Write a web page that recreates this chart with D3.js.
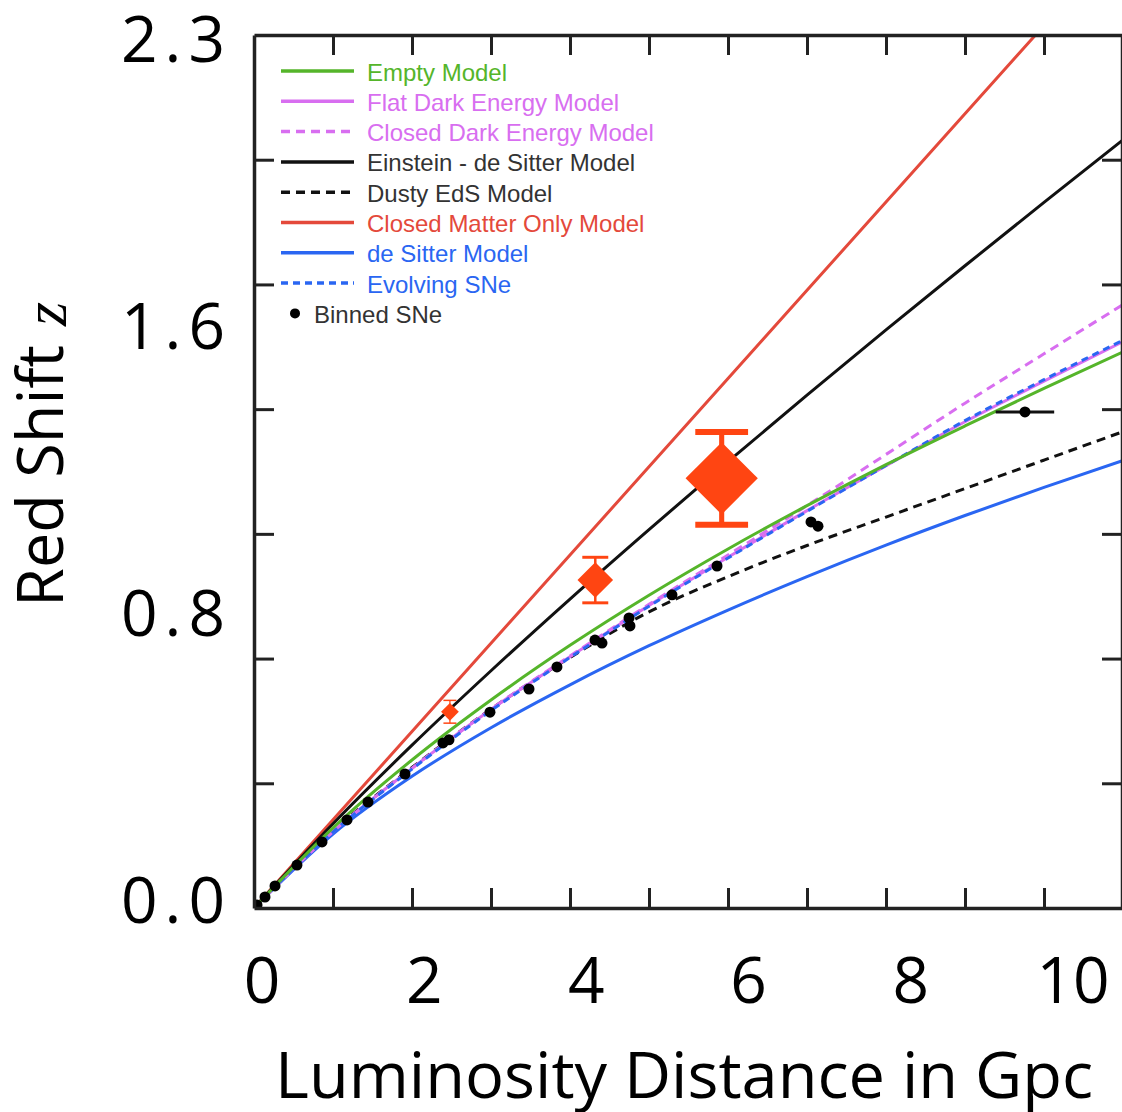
<!DOCTYPE html>
<html>
<head>
<meta charset="utf-8">
<script src="https://cdn.jsdelivr.net/npm/d3@7"></script>
<style>
  body { margin: 0; background: #fff; }
  svg { display: block; }
</style>
</head>
<body>
<svg width="1122" height="1112"></svg>
<script>
// luminosity distance (Gpc) where the model curves were read
const distGpc = [0, 1, 2, 3, 4, 5, 6, 7, 8, 9, 10, 11];

// red shift z of each model at those distances
const zEmpty     = [0, 0.211, 0.390, 0.548, 0.692, 0.824, 0.946, 1.060, 1.168, 1.270, 1.369, 1.465];
const zFlatDE    = [0, 0.201, 0.368, 0.523, 0.662, 0.797, 0.924, 1.047, 1.165, 1.281, 1.388, 1.492];
const zClosedDE  = [0, 0.201, 0.368, 0.524, 0.664, 0.800, 0.930, 1.060, 1.195, 1.330, 1.460, 1.590];
const zEdS       = [0, 0.222, 0.429, 0.625, 0.814, 0.997, 1.176, 1.351, 1.523, 1.692, 1.859, 2.024];
const zDustyEdS  = [0, 0.203, 0.370, 0.524, 0.660, 0.780, 0.873, 0.955, 1.030, 1.105, 1.180, 1.255];
const zDeSitter  = [0, 0.195, 0.347, 0.475, 0.588, 0.691, 0.785, 0.873, 0.956, 1.034, 1.108, 1.179];
const zEvolving  = [0, 0.200, 0.366, 0.520, 0.660, 0.795, 0.922, 1.045, 1.166, 1.284, 1.392, 1.496];

// closed matter only model is a straight line
const distClosedMatter = [0, 2, 4, 6, 8, 10];
const zClosedMatter    = [0, 0.465, 0.930, 1.395, 1.860, 2.325];

// binned supernovae
const snDist = [0.038, 0.139, 0.266, 0.544, 0.861, 1.177, 1.443, 1.911, 2.392, 2.468, 2.987, 3.481,
                3.835, 4.316, 4.405, 4.747, 4.759, 5.291, 5.861, 7.051, 7.139, 9.759];
const snZ    = [0.008, 0.029, 0.058, 0.113, 0.174, 0.232, 0.279, 0.353, 0.435, 0.443, 0.516, 0.577,
                0.635, 0.706, 0.698, 0.764, 0.743, 0.825, 0.901, 1.017, 1.006, 1.307];
const snDistErr = [0, 0, 0, 0, 0, 0, 0, 0, 0, 0, 0, 0, 0, 0, 0, 0, 0, 0, 0, 0, 0, 0.37];

// red diamonds with z error bars
const ptDist = [2.48, 4.32, 5.92];
const ptZ    = [0.517, 0.864, 1.132];
const ptErr  = [0.030, 0.060, 0.122];

// axis tick labels
const xTickLabels = ["0", "2", "4", "6", "8", "10"];
const yTickLabels = ["0.0", "0.8", "1.6", "2.3"];

const legendNames = ["Empty Model", "Flat Dark Energy Model", "Closed Dark Energy Model",
  "Einstein - de Sitter Model", "Dusty EdS Model", "Closed Matter Only Model",
  "de Sitter Model", "Evolving SNe", "Binned SNe"];

////////////////////////////////////////////////////////////////////////////////
const svg = d3.select("svg");
const pLeft = 254, pRight = 1123, pTop = 35, pBottom = 908;

const x = d3.scaleLinear().domain([0, 11]).range([pLeft, pRight]);
const y = d3.scaleLinear().domain([0, 2.3]).range([pBottom, pTop]);

const green = "#55b52a", magenta = "#d86ef0", black = "#111", red = "#e4493b",
      blue = "#2a66f2", orange = "#ff4512";

// model lines: draw order + styles
const models = [
  { name: legendNames[5], d: distClosedMatter, z: zClosedMatter, color: red, dash: null },
  { name: legendNames[3], d: distGpc, z: zEdS, color: black, dash: null },
  { name: legendNames[6], d: distGpc, z: zDeSitter, color: blue, dash: null },
  { name: legendNames[4], d: distGpc, z: zDustyEdS, color: black, dash: "9,6" },
  { name: legendNames[1], d: distGpc, z: zFlatDE, color: magenta, dash: null },
  { name: legendNames[2], d: distGpc, z: zClosedDE, color: magenta, dash: "9,6" },
  { name: legendNames[7], d: distGpc, z: zEvolving, color: blue, dash: "7,5" },
  { name: legendNames[0], d: distGpc, z: zEmpty, color: green, dash: null }
];

svg.append("defs").append("clipPath").attr("id", "plot")
  .append("rect").attr("x", pLeft).attr("y", pTop)
  .attr("width", pRight - pLeft).attr("height", pBottom - pTop);

const line = d3.line()
  .x(p => x(p[0])).y(p => y(p[1]))
  .curve(d3.curveMonotoneX);

const plot = svg.append("g").attr("clip-path", "url(#plot)");

models.forEach(m => {
  plot.append("path")
    .datum(m.d.map((d, i) => [d, m.z[i]]))
    .attr("fill", "none")
    .attr("stroke", m.color)
    .attr("stroke-width", 3)
    .attr("stroke-dasharray", m.dash)
    .attr("d", line);
});

// binned SNe
const sn = snDist.map((d, i) => ({ d: d, z: snZ[i], e: snDistErr[i] }));
plot.selectAll(".snerr").data(sn.filter(s => s.e > 0))
  .enter().append("line")
  .attr("x1", s => x(s.d - s.e)).attr("x2", s => x(s.d + s.e))
  .attr("y1", s => y(s.z)).attr("y2", s => y(s.z))
  .attr("stroke", black).attr("stroke-width", 3);
plot.selectAll(".sn").data(sn)
  .enter().append("circle")
  .attr("cx", s => x(s.d)).attr("cy", s => y(s.z))
  .attr("r", 5.5).attr("fill", "#000");

// red diamonds, marker size follows the error bar length
const pts = ptDist.map((d, i) => ({ d: d, z: ptZ[i], e: ptErr[i] }));
const errPx = e => y(0) - y(e);
const pg = plot.selectAll(".pt").data(pts).enter().append("g")
  .attr("transform", p => "translate(" + x(p.d) + "," + y(p.z) + ")");
pg.append("line")
  .attr("y1", p => -errPx(p.e)).attr("y2", p => errPx(p.e))
  .attr("stroke", orange).attr("stroke-width", p => errPx(p.e) * 0.11);
pg.selectAll(".cap").data(p => [-1, 1].map(s => ({ s: s, h: errPx(p.e) })))
  .enter().append("line")
  .attr("x1", c => -c.h * 0.57).attr("x2", c => c.h * 0.57)
  .attr("y1", c => c.s * c.h).attr("y2", c => c.s * c.h)
  .attr("stroke", orange).attr("stroke-width", c => c.h * 0.13);
pg.append("path")
  .attr("d", p => {
    const r = errPx(p.e) * 0.78;          // half diagonal
    return d3.symbol(d3.symbolSquare, 2 * r * r)();
  })
  .attr("transform", "rotate(45)")
  .attr("fill", orange);

// frame with inner ticks
const tickLen = 20;
const xt = d3.range(1, 11);
const yt = d3.range(1, 7).map(i => i * 2.3 / 7);
function styleAxis(g) {
  g.selectAll("path.domain").attr("stroke", "#222").attr("stroke-width", 3.5);
  g.selectAll(".tick line").attr("stroke", "#222").attr("stroke-width", 3);
  g.selectAll(".tick text").remove();
}
svg.append("g").attr("transform", "translate(0," + pBottom + ")")
  .call(d3.axisBottom(x).tickValues(xt).tickSize(-tickLen).tickSizeOuter(0)).call(styleAxis);
svg.append("g").attr("transform", "translate(0," + pTop + ")")
  .call(d3.axisTop(x).tickValues(xt).tickSize(-tickLen).tickSizeOuter(0)).call(styleAxis);
svg.append("g").attr("transform", "translate(" + pLeft + ",0)")
  .call(d3.axisLeft(y).tickValues(yt).tickSize(-tickLen).tickSizeOuter(0)).call(styleAxis);
svg.append("g").attr("transform", "translate(" + (pRight - 1) + ",0)")
  .call(d3.axisRight(y).tickValues(yt).tickSize(-tickLen).tickSizeOuter(0)).call(styleAxis);

// tick labels (placed as in the picture)
const xLab = d3.scalePoint().domain(xTickLabels).range([262, 1073]);
const yLab = d3.scalePoint().domain(yTickLabels).range([923, 62]);
const labFont = "'Open Sans', 'Noto Sans', sans-serif";

svg.selectAll(".xl").data(xTickLabels).enter().append("text")
  .attr("x", d => xLab(d)).attr("y", 1003)
  .attr("text-anchor", "middle")
  .attr("font-family", labFont).attr("font-size", 64)
  .text(d => d);

svg.selectAll(".yl").data(yTickLabels).enter().append("text")
  .attr("x", 232).attr("y", d => yLab(d))
  .attr("text-anchor", "end")
  .attr("font-family", labFont).attr("font-size", 64)
  .attr("letter-spacing", 7)
  .text(d => d);

// axis titles
svg.append("text")
  .attr("x", 275).attr("y", 1098)
  .attr("font-family", labFont).attr("font-size", 64)
  .attr("textLength", 818).attr("lengthAdjust", "spacingAndGlyphs")
  .text("Luminosity Distance in Gpc");

svg.append("text")
  .attr("transform", "translate(63,607) rotate(-90)")
  .attr("font-family", labFont).attr("font-size", 64)
  .attr("textLength", 262).attr("lengthAdjust", "spacingAndGlyphs")
  .text("Red Shift");
svg.append("text")
  .attr("transform", "translate(66,326) rotate(-90)")
  .attr("font-family", "'Liberation Serif', serif").attr("font-style", "italic")
  .attr("font-size", 62)
  .text("z");

// legend
const legendStyle = [
  { color: green, dash: null }, { color: magenta, dash: null }, { color: magenta, dash: "9,6" },
  { color: black, dash: null }, { color: black, dash: "9,6" }, { color: red, dash: null },
  { color: blue, dash: null }, { color: blue, dash: "7,5" }, { color: black, dot: true }
];
const legendFont = "'Liberation Sans', Arial, sans-serif";
const lg = svg.append("g");
legendNames.forEach((name, i) => {
  const ly = 71 + i * 30.3;
  const st = legendStyle[i];
  if (st.dot) {
    lg.append("circle").attr("cx", 295).attr("cy", ly).attr("r", 5).attr("fill", "#000");
    lg.append("text").attr("x", 314).attr("y", ly + 9.5)
      .attr("font-family", legendFont).attr("font-size", 24)
      .attr("fill", "#333").text(name);
  } else {
    lg.append("line").attr("x1", 281).attr("x2", 354).attr("y1", ly).attr("y2", ly)
      .attr("stroke", st.color).attr("stroke-width", 3.5).attr("stroke-dasharray", st.dash);
    lg.append("text").attr("x", 367).attr("y", ly + 9.5)
      .attr("font-family", legendFont).attr("font-size", 24)
      .attr("fill", st.color === black ? "#333" : st.color).text(name);
  }
});
</script>
</body>
</html>
